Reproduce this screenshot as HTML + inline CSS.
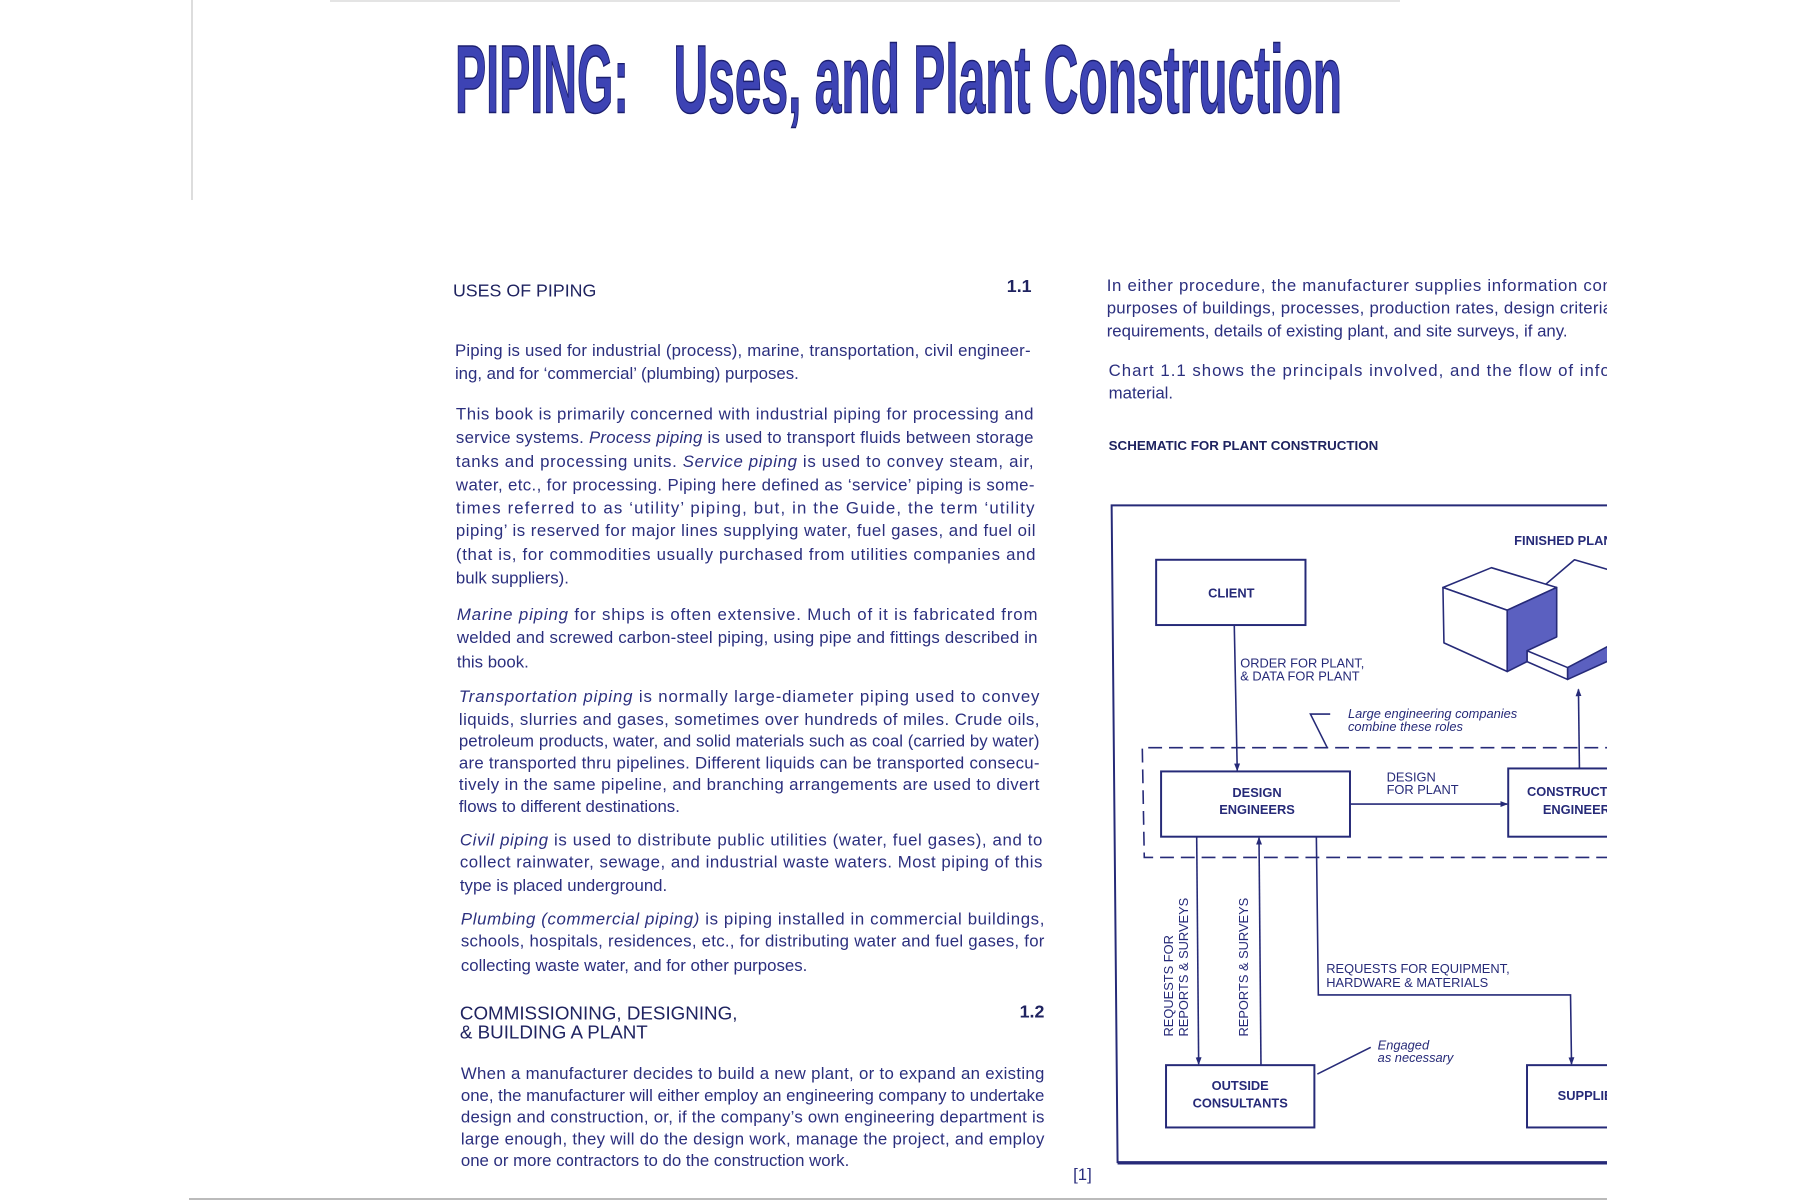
<!DOCTYPE html>
<html><head><meta charset="utf-8"><style>
html,body{margin:0;padding:0;background:#fff;width:1800px;height:1200px;overflow:hidden}
svg{display:block}
.b{font-family:"Liberation Sans Narrow","Liberation Sans",sans-serif;font-size:17px;fill:#2b2f7e}
.i{font-style:italic}
.h{font-family:"Liberation Sans",sans-serif;fill:#1f2360}
.d{font-family:"Liberation Sans",sans-serif;font-size:13px;fill:#262a78}
.bx{fill:#fff;stroke:#262a78;stroke-width:2}
.ln{stroke:#262a78;stroke-width:1.6;fill:none}
</style></head><body>
<svg width="1800" height="1200" viewBox="0 0 1800 1200" xmlns="http://www.w3.org/2000/svg">
<defs><marker id="ar" markerWidth="8" markerHeight="10" refX="7" refY="4" orient="auto" markerUnits="userSpaceOnUse"><path d="M0,1 L8,4 L0,7 Z" fill="#262a78"/></marker></defs>
<line x1="192" y1="0" x2="192" y2="200" stroke="#ddd" stroke-width="2"/>
<line x1="189" y1="1199" x2="1607" y2="1199" stroke="#bbb" stroke-width="2"/>
<line x1="330" y1="1" x2="1400" y2="1" stroke="#e4e4e4" stroke-width="2"/>

<g transform="scale(0.989)">
<text x="460" y="114" textLength="176" lengthAdjust="spacingAndGlyphs" font-family="Liberation Sans Narrow, Liberation Sans, sans-serif" font-weight="bold" font-size="98" fill="#3d43b4" stroke="#1b1e6e" stroke-width="1.5">PIPING:</text>
<text x="681" y="114" textLength="676" lengthAdjust="spacingAndGlyphs" font-family="Liberation Sans Narrow, Liberation Sans, sans-serif" font-weight="bold" font-size="98" fill="#3d43b4" stroke="#1b1e6e" stroke-width="1.5">Uses, and Plant Construction</text>

<text class="h" x="458" y="300" font-size="18">USES OF PIPING</text>
<text class="h" x="1018" y="295" font-size="18" font-weight="bold">1.1</text>

<g class="b">
<text x="460" y="360" textLength="582" lengthAdjust="spacing">Piping is used for industrial (process), marine, transportation, civil engineer-</text>
<text x="460" y="383">ing, and for ‘commercial’ (plumbing) purposes.</text>
<text x="461" y="424" textLength="584" lengthAdjust="spacing">This book is primarily concerned with industrial piping for processing and</text>
<text x="461" y="448" textLength="584" lengthAdjust="spacing">service systems.  <tspan class="i">Process piping</tspan> is used to transport fluids between storage</text>
<text x="461" y="472" textLength="584" lengthAdjust="spacing">tanks and processing units. <tspan class="i">Service piping</tspan> is used to convey  steam, air,</text>
<text x="461" y="496" textLength="585" lengthAdjust="spacing">water, etc., for processing. Piping here defined as ‘service’ piping is some-</text>
<text x="461" y="519" textLength="585" lengthAdjust="spacing">times referred to as ‘utility’ piping, but, in the Guide, the term ‘utility</text>
<text x="461" y="542" textLength="586" lengthAdjust="spacing">piping’ is reserved for major lines supplying water, fuel gases, and fuel oil</text>
<text x="461" y="566" textLength="586" lengthAdjust="spacing">(that is, for commodities usually purchased from utilities companies and</text>
<text x="461" y="590">bulk suppliers).</text>
<text x="462" y="627" textLength="587" lengthAdjust="spacing"><tspan class="i">Marine piping</tspan> for ships is often extensive.  Much of it is fabricated from</text>
<text x="462" y="650" textLength="587" lengthAdjust="spacing">welded and screwed carbon-steel piping, using pipe and fittings described in</text>
<text x="462" y="675">this book.</text>
<text x="464" y="710" textLength="587" lengthAdjust="spacing"><tspan class="i">Transportation piping</tspan> is normally large-diameter piping used to convey</text>
<text x="464" y="733" textLength="587" lengthAdjust="spacing">liquids, slurries and gases, sometimes over hundreds of miles. Crude oils,</text>
<text x="464" y="755" textLength="587" lengthAdjust="spacing">petroleum products, water, and solid materials such as coal (carried by water)</text>
<text x="464" y="777" textLength="587" lengthAdjust="spacing">are transported thru pipelines. Different liquids can be transported consecu-</text>
<text x="464" y="799" textLength="587" lengthAdjust="spacing">tively in the same pipeline, and branching arrangements are used to divert</text>
<text x="464" y="821">flows to different destinations.</text>
<text x="465" y="855" textLength="589" lengthAdjust="spacing"><tspan class="i">Civil piping</tspan> is used to distribute public utilities (water, fuel gases), and to</text>
<text x="465" y="877" textLength="589" lengthAdjust="spacing">collect rainwater, sewage, and industrial waste waters. Most piping of this</text>
<text x="465" y="901">type is placed underground.</text>
<text x="466" y="935" textLength="590" lengthAdjust="spacing"><tspan class="i">Plumbing (commercial piping)</tspan> is piping installed in commercial buildings,</text>
<text x="466" y="957" textLength="590" lengthAdjust="spacing">schools, hospitals, residences, etc., for distributing water and fuel gases, for</text>
<text x="466" y="982">collecting waste water, and for other purposes.</text>
<text x="466" y="1091" textLength="590" lengthAdjust="spacing">When a manufacturer decides to build a new plant, or to expand an existing</text>
<text x="466" y="1113" textLength="590" lengthAdjust="spacing">one, the manufacturer will either employ an engineering company to undertake</text>
<text x="466" y="1135" textLength="590" lengthAdjust="spacing">design and construction, or, if the company’s own engineering department is</text>
<text x="466" y="1157" textLength="590" lengthAdjust="spacing">large enough, they will do the design work, manage the project, and employ</text>
<text x="466" y="1179">one or more contractors to do the construction work.</text>
</g>
<text class="h" x="465" y="1031" font-size="19">COMMISSIONING, DESIGNING,</text>
<text class="h" x="465" y="1050" font-size="19">&amp; BUILDING A PLANT</text>
<text class="h" x="1031" y="1029" font-size="18" font-weight="bold">1.2</text>
<text class="b" x="1085" y="1193" font-size="12">[1]</text>

<g class="b">
<text x="1119" y="294" textLength="520" lengthAdjust="spacing">In either procedure, the manufacturer supplies information conc</text>
<text x="1119" y="317" textLength="520" lengthAdjust="spacing">purposes of buildings, processes, production rates, design criteria ’</text>
<text x="1119" y="340">requirements, details of existing plant, and site surveys, if any.</text>
<text x="1121" y="380" textLength="520" lengthAdjust="spacing">Chart 1.1 shows the principals involved, and the flow of inforr</text>
<text x="1121" y="403">material.</text>
</g>
<text class="h" x="1121" y="455" font-size="13.5" font-weight="bold">SCHEMATIC FOR PLANT CONSTRUCTION</text>

<path d="M1700,511 L1124,511 L1130,1175 L1700,1175" fill="none" stroke="#262a78" stroke-width="2"/>
<line x1="1130" y1="1176" x2="1700" y2="1176" stroke="#262a78" stroke-width="3"/>
<text class="d" x="1531" y="551" font-weight="bold" font-size="12.5">FINISHED PLANT</text>

<g stroke="#262a78" stroke-width="1.6" stroke-linejoin="round">
<path d="M1558,595 L1592,566 L1640,580" fill="none"/>
<path d="M1585,675 L1640,646 L1640,662 L1585,687 Z" fill="#5b60c0"/>
<path d="M1544,658 L1585,675 L1585,687 L1544,669 Z" fill="#fff"/>
<path d="M1459,594 L1508,574 L1574,594 L1524,617 Z" fill="#fff"/>
<path d="M1459,594 L1524,617 L1524,679 L1460,650 Z" fill="#fff"/>
<path d="M1524,617 L1574,594 L1574,644 L1544,658 L1544,669 L1524,679 Z" fill="#5b60c0"/>
</g>

<rect class="bx" x="1169" y="566" width="151" height="66"/>
<text class="d" x="1245" y="604" text-anchor="middle" font-weight="bold">CLIENT</text>

<line class="ln" x1="1248" y1="632" x2="1251" y2="779" marker-end="url(#ar)"/>
<text class="d" x="1254" y="675">ORDER FOR PLANT,</text>
<text class="d" x="1254" y="688">&amp; DATA FOR PLANT</text>

<path class="ln" d="M1345,722 L1325,722 L1342,756" stroke-width="1.3"/>
<text class="d" x="1363" y="726" font-size="11.5" font-style="italic">Large engineering companies</text>
<text class="d" x="1363" y="739" font-size="11.5" font-style="italic">combine these roles</text>

<path d="M1700,756 L1155,756 L1157,867 L1700,867" fill="none" stroke="#262a78" stroke-width="1.6" stroke-dasharray="14,7"/>

<rect class="bx" x="1174" y="780" width="191" height="66"/>
<text class="d" x="1271" y="806" text-anchor="middle" font-weight="bold">DESIGN</text>
<text class="d" x="1271" y="823" text-anchor="middle" font-weight="bold">ENGINEERS</text>

<line class="ln" x1="1365" y1="813" x2="1524" y2="813" marker-end="url(#ar)"/>
<text class="d" x="1402" y="790">DESIGN</text>
<text class="d" x="1402" y="803">FOR PLANT</text>

<rect class="bx" x="1525" y="777" width="200" height="69"/>
<text class="d" x="1544" y="805" font-weight="bold">CONSTRUCTION</text>
<text class="d" x="1560" y="823" font-weight="bold">ENGINEERS</text>
<line class="ln" x1="1597" y1="777" x2="1596" y2="697" marker-end="url(#ar)"/>

<line class="ln" x1="1210" y1="846" x2="1212" y2="1076" marker-end="url(#ar)"/>
<line class="ln" x1="1275" y1="1077" x2="1273" y2="847" marker-end="url(#ar)"/>
<path class="ln" d="M1331,846 L1333,1006 L1588,1006 L1589,1076" marker-end="url(#ar)"/>

<text class="d" transform="translate(1186,1048) rotate(-90)">REQUESTS FOR</text>
<text class="d" transform="translate(1201,1048) rotate(-90)">REPORTS &amp; SURVEYS</text>
<text class="d" transform="translate(1262,1048) rotate(-90)">REPORTS &amp; SURVEYS</text>

<text class="d" x="1341" y="984">REQUESTS FOR EQUIPMENT,</text>
<text class="d" x="1341" y="998">HARDWARE &amp; MATERIALS</text>

<line class="ln" x1="1332" y1="1086" x2="1386" y2="1059" stroke-width="1.3"/>
<text class="d" x="1393" y="1061" font-size="11.5" font-style="italic">Engaged</text>
<text class="d" x="1393" y="1074" font-size="11.5" font-style="italic">as necessary</text>

<rect class="bx" x="1179" y="1077" width="150" height="63"/>
<text class="d" x="1254" y="1102" text-anchor="middle" font-weight="bold">OUTSIDE</text>
<text class="d" x="1254" y="1120" text-anchor="middle" font-weight="bold">CONSULTANTS</text>

<rect class="bx" x="1544" y="1077" width="150" height="63"/>
<text class="d" x="1575" y="1112" font-weight="bold">SUPPLIERS</text>
</g>

<rect x="1607" y="0" width="193" height="1198" fill="#fff"/>
</svg>
</body></html>
